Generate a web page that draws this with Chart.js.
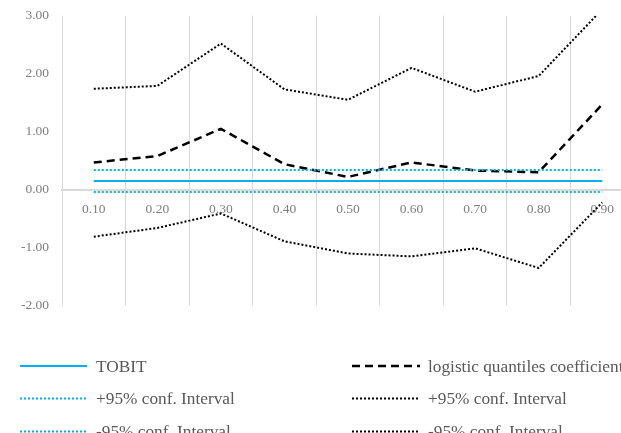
<!DOCTYPE html>
<html><head><meta charset="utf-8">
<script src="https://cdn.jsdelivr.net/npm/chart.js@4/dist/chart.umd.min.js"></script>
<style>
html,body{margin:0;padding:0;background:#fff;overflow:hidden;}
#wrap{position:relative;width:640px;height:460px;}
</style></head><body>
<div id="wrap"><canvas id="c"></canvas></div>
<script>
const categories = ['0.10','0.20','0.30','0.40','0.50','0.60','0.70','0.80','0.90'];
const tobit = [0.15,0.15,0.15,0.15,0.15,0.15,0.15,0.15,0.15];
const tobitUpper = [0.34,0.34,0.34,0.34,0.34,0.34,0.34,0.34,0.34];
const tobitLower = [-0.04,-0.04,-0.04,-0.04,-0.04,-0.04,-0.04,-0.04,-0.04];
const logisticCoef = [0.47,0.58,1.05,0.44,0.22,0.47,0.33,0.30,1.47];
const logisticUpper = [1.74,1.79,2.52,1.73,1.55,2.10,1.69,1.96,3.11];
const logisticLower = [-0.81,-0.66,-0.41,-0.89,-1.10,-1.15,-1.01,-1.35,-0.22];
const seriesNames = ['TOBIT','logistic quantiles coefficient','+95% conf. Interval','+95% conf. Interval','-95% conf. Interval','-95% conf. Interval'];
const yMin = -2, yMax = 3, yStep = 1;

const BLUE = '#00B0F0', BLACK = '#000000';
const FONT = '"Liberation Serif", "DejaVu Serif", serif';

function mk(i, data, color, width, dash) {
  return {label: seriesNames[i], data, borderColor: color, backgroundColor: color,
    borderWidth: width, borderDash: dash, pointRadius: 0, tension: 0, fill: false,
    borderCapStyle: 'butt', borderJoinStyle: 'round', order: 10 - i};
}

const datasets = [
  mk(0, tobit, BLUE, 2, []),
  mk(1, logisticCoef, BLACK, 2.5, [8, 5]),
  mk(2, tobitUpper, BLUE, 2, [2, 2]),
  mk(3, logisticUpper, BLACK, 2, [2, 2]),
  mk(4, tobitLower, BLUE, 2, [2, 2]),
  mk(5, logisticLower, BLACK, 2, [2, 2])
];

const legendPlugin = {
  id: 'customLegend',
  afterDraw(chart) {
    const ctx = chart.ctx;
    const cols = [{x0: 20, x1: 87, tx: 96}, {x0: 352, x1: 420, tx: 428}];
    const rows = [366, 398.5, 431.5];
    chart.data.datasets.forEach((ds, i) => {
      const col = cols[i % 2], y = rows[Math.floor(i / 2)];
      ctx.save();
      ctx.strokeStyle = ds.borderColor;
      ctx.lineWidth = ds.borderWidth;
      ctx.setLineDash(ds.borderDash || []);
      ctx.beginPath();
      ctx.moveTo(col.x0, y);
      ctx.lineTo(col.x1, y);
      ctx.stroke();
      ctx.setLineDash([]);
      ctx.fillStyle = '#595959';
      ctx.font = '17.3px ' + FONT;
      ctx.textBaseline = 'middle';
      ctx.textAlign = 'left';
      ctx.fillText(ds.label, col.tx, y + 1);
      ctx.restore();
    });
  }
};

new Chart(document.getElementById('c'), {
  type: 'line',
  data: {labels: categories, datasets},
  plugins: [legendPlugin],
  options: {
    responsive: true, maintainAspectRatio: false, animation: false, devicePixelRatio: 1,
    layout: {padding: {top: 15.7, left: 0, right: 6, bottom: 154.3}},
    plugins: {legend: {display: false}, tooltip: {enabled: false}},
    scales: {
      x: {
        type: 'category', offset: true, position: {y: 0},
        grid: {offset: true, color: '#d9d9d9', lineWidth: 1, drawTicks: false},
        border: {color: '#d9d9d9', width: 2},
        ticks: {color: '#7f7f7f', font: {family: FONT, size: 13.5}, padding: 11.5, maxRotation: 0, autoSkip: false}
      },
      y: {
        min: yMin, max: yMax,
        grid: {display: false, drawTicks: false},
        border: {display: false},
        ticks: {stepSize: yStep, color: '#7f7f7f', font: {family: FONT, size: 13.5}, padding: 13,
          callback: v => Number(v).toFixed(2)},
        afterFit: s => { s.width = 62; s.paddingTop = 0; s.paddingBottom = 0; }
      }
    }
  }
});
</script>
</body></html>
